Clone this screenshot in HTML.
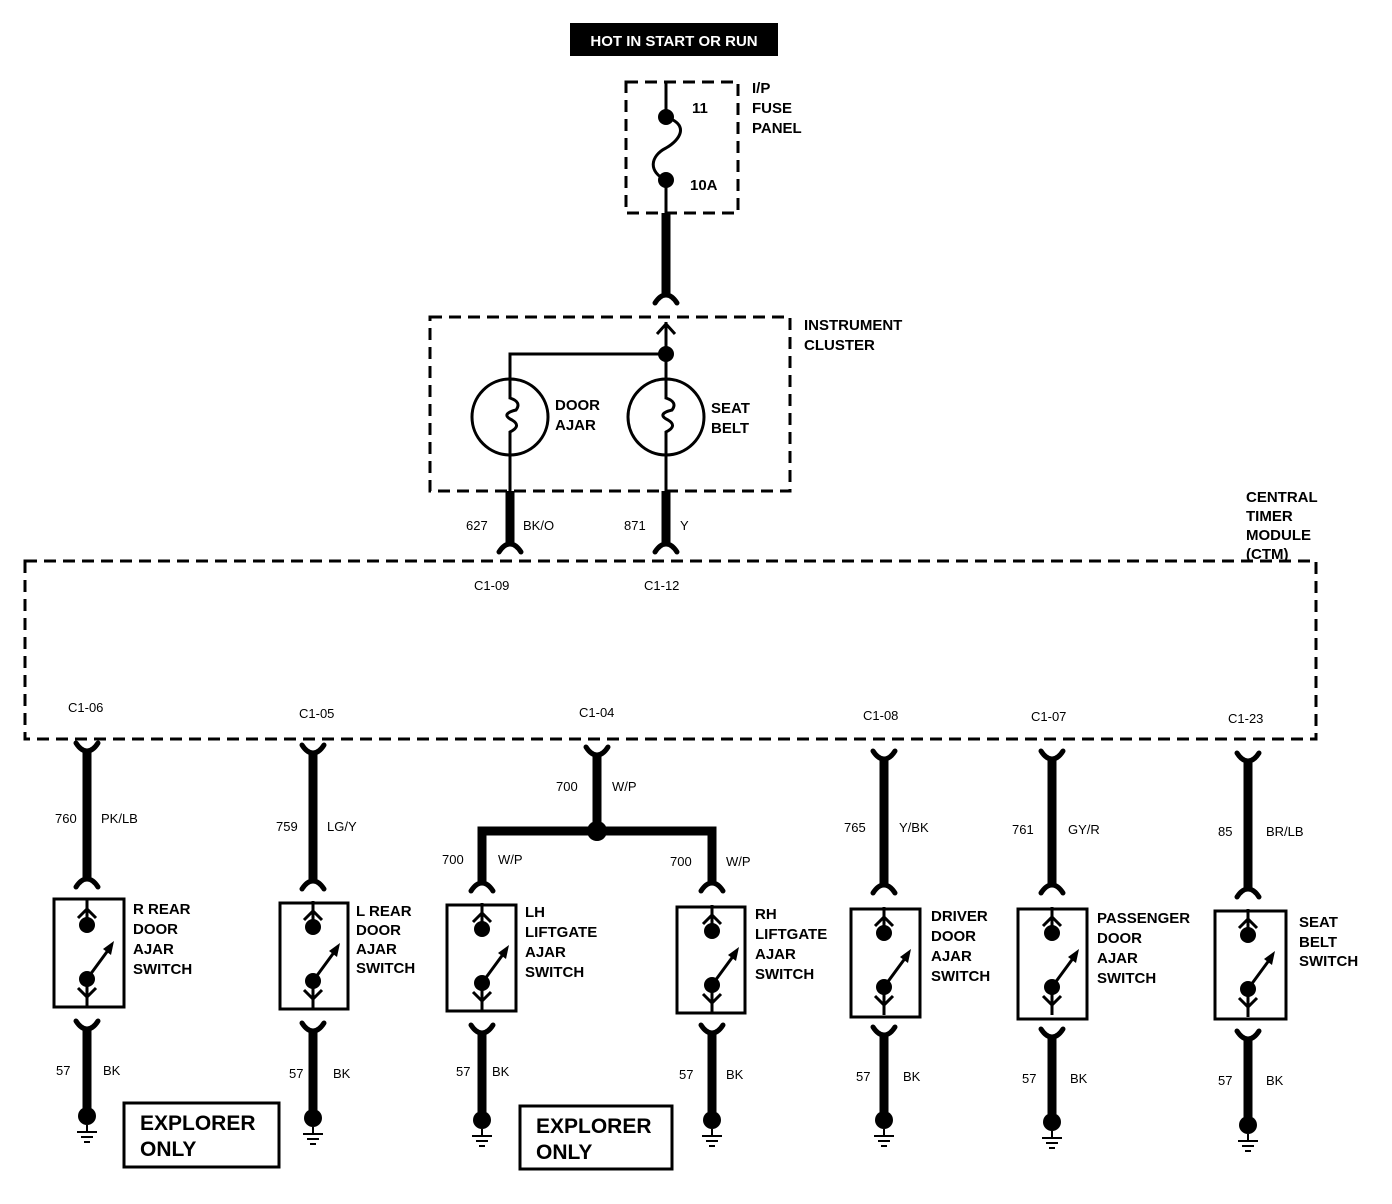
<!DOCTYPE html>
<html><head><meta charset="utf-8"><style>
html,body{margin:0;padding:0;background:#fff}
svg{display:block}
text{font-family:"Liberation Sans",Arial,sans-serif;font-weight:bold;fill:#000}
.l{font-size:15px}
.w{font-size:13px;font-weight:normal}
</style></head><body>
<svg width="1392" height="1204" viewBox="0 0 1392 1204" xmlns="http://www.w3.org/2000/svg">
<defs>
<g id="sw">
 <line x1="0" y1="0" x2="0" y2="26" stroke="#000" stroke-width="3"/>
 <polyline points="-9,19 0,10 9,19" fill="none" stroke="#000" stroke-width="3"/>
 <circle cx="0" cy="26" r="8"/>
 <circle cx="0" cy="80" r="8"/>
 <line x1="0" y1="80" x2="0" y2="108" stroke="#000" stroke-width="3"/>
 <polyline points="-9,89 0,98 9,89" fill="none" stroke="#000" stroke-width="3"/>
 <line x1="0" y1="80" x2="22" y2="50" stroke="#000" stroke-width="3"/>
 <polygon points="27,42 16,50 24,56"/>
</g>
<g id="ctop"><path d="M-11,-5 Q-6,3 0,3 Q6,3 11,-5" fill="none" stroke="#000" stroke-width="5" stroke-linecap="round"/></g>
<g id="cbot"><path d="M-11,5 Q-6,-3 0,-3 Q6,-3 11,5" fill="none" stroke="#000" stroke-width="5" stroke-linecap="round"/></g>
<g id="gnd">
 <circle cx="0" cy="0" r="9"/>
 <line x1="0" y1="9" x2="0" y2="16" stroke="#000" stroke-width="2"/>
 <line x1="-10" y1="16" x2="10" y2="16" stroke="#000" stroke-width="2"/>
 <line x1="-6" y1="21" x2="6" y2="21" stroke="#000" stroke-width="2"/>
 <line x1="-3" y1="26" x2="3" y2="26" stroke="#000" stroke-width="2"/>
</g>
</defs>

<!-- HOT label -->
<rect x="570" y="23" width="208" height="33" fill="#000"/>
<text x="674" y="46" text-anchor="middle" font-size="15" style="fill:#fff">HOT IN START OR RUN</text>

<!-- Fuse panel -->
<rect x="626" y="82" width="112" height="131" fill="none" stroke="#000" stroke-width="3" stroke-dasharray="12,7"/>
<line x1="666" y1="82" x2="666" y2="117" stroke="#000" stroke-width="3"/>
<circle cx="666" cy="117" r="8"/>
<circle cx="666" cy="180" r="8"/>
<path d="M666,117 C690,125 680,140 666,148 C650,156 648,172 666,180" fill="none" stroke="#000" stroke-width="3"/>
<line x1="666" y1="180" x2="666" y2="213" stroke="#000" stroke-width="3"/>
<text x="692" y="113" class="l">11</text>
<text x="690" y="190" class="l">10A</text>
<text x="752" y="93" class="l">I/P</text>
<text x="752" y="113" class="l">FUSE</text>
<text x="752" y="133" class="l">PANEL</text>
<line x1="666" y1="213" x2="666" y2="296" stroke="#000" stroke-width="9"/>
<use href="#cbot" x="666" y="298"/>

<!-- Instrument cluster -->
<rect x="430" y="317" width="360" height="174" fill="none" stroke="#000" stroke-width="3" stroke-dasharray="12,7"/>
<text x="804" y="330" class="l">INSTRUMENT</text>
<text x="804" y="350" class="l">CLUSTER</text>
<line x1="666" y1="322" x2="666" y2="382" stroke="#000" stroke-width="3"/>
<polyline points="657,334 666,324 675,334" fill="none" stroke="#000" stroke-width="3"/>
<circle cx="666" cy="354" r="8"/>
<polyline points="666,354 510,354 510,382" fill="none" stroke="#000" stroke-width="3"/>
<circle cx="510" cy="417" r="38" fill="none" stroke="#000" stroke-width="3"/>
<circle cx="666" cy="417" r="38" fill="none" stroke="#000" stroke-width="3"/>
<path d="M510,379 L510,398 Q522,402 516,410 Q500,414 512,420 Q522,426 510,432 L510,493" fill="none" stroke="#000" stroke-width="3"/>
<path d="M666,379 L666,398 Q678,402 672,410 Q656,414 668,420 Q678,426 666,432 L666,493" fill="none" stroke="#000" stroke-width="3"/>
<text x="555" y="410" class="l">DOOR</text>
<text x="555" y="430" class="l">AJAR</text>
<text x="711" y="413" class="l">SEAT</text>
<text x="711" y="433" class="l">BELT</text>
<line x1="510" y1="491" x2="510" y2="545" stroke="#000" stroke-width="9"/>
<line x1="666" y1="491" x2="666" y2="545" stroke="#000" stroke-width="9"/>
<use href="#cbot" x="510" y="547"/>
<use href="#cbot" x="666" y="547"/>
<text x="466" y="530" class="w">627</text><text x="523" y="530" class="w">BK/O</text>
<text x="624" y="530" class="w">871</text><text x="680" y="530" class="w">Y</text>

<!-- CTM -->
<text x="1246" y="502" class="l">CENTRAL</text>
<text x="1246" y="521" class="l">TIMER</text>
<text x="1246" y="540" class="l">MODULE</text>
<text x="1246" y="559" class="l">(CTM)</text>
<rect x="25" y="561" width="1291" height="178" fill="none" stroke="#000" stroke-width="3" stroke-dasharray="12,7"/>
<text x="474" y="590" class="w">C1-09</text>
<text x="644" y="590" class="w">C1-12</text>
<text x="68" y="712" class="w">C1-06</text>
<text x="299" y="718" class="w">C1-05</text>
<text x="579" y="717" class="w">C1-04</text>
<text x="863" y="720" class="w">C1-08</text>
<text x="1031" y="721" class="w">C1-07</text>
<text x="1228" y="723" class="w">C1-23</text>

<!-- col1 -->
<use href="#ctop" x="87" y="748"/>
<line x1="87" y1="749" x2="87" y2="880" stroke="#000" stroke-width="9"/>
<use href="#cbot" x="87" y="882"/>
<text x="55" y="823" class="w">760</text><text x="101" y="823" class="w">PK/LB</text>
<rect x="54" y="899" width="70" height="108" fill="none" stroke="#000" stroke-width="3"/>
<use href="#sw" x="87" y="899"/>
<text x="133" y="914" class="l">R REAR</text><text x="133" y="934" class="l">DOOR</text><text x="133" y="954" class="l">AJAR</text><text x="133" y="974" class="l">SWITCH</text>
<use href="#ctop" x="87" y="1026"/>
<line x1="87" y1="1027" x2="87" y2="1108" stroke="#000" stroke-width="9"/>
<text x="56" y="1075" class="w">57</text><text x="103" y="1075" class="w">BK</text>
<use href="#gnd" x="87" y="1116"/>
<rect x="124" y="1103" width="155" height="64" fill="none" stroke="#000" stroke-width="3"/>
<text x="140" y="1130" font-size="21">EXPLORER</text><text x="140" y="1156" font-size="21">ONLY</text>

<!-- col2 -->
<use href="#ctop" x="313" y="750"/>
<line x1="313" y1="751" x2="313" y2="882" stroke="#000" stroke-width="9"/>
<use href="#cbot" x="313" y="884"/>
<text x="276" y="831" class="w">759</text><text x="327" y="831" class="w">LG/Y</text>
<rect x="280" y="903" width="68" height="106" fill="none" stroke="#000" stroke-width="3"/>
<use href="#sw" x="313" y="901"/>
<text x="356" y="916" class="l">L REAR</text><text x="356" y="935" class="l">DOOR</text><text x="356" y="954" class="l">AJAR</text><text x="356" y="973" class="l">SWITCH</text>
<use href="#ctop" x="313" y="1028"/>
<line x1="313" y1="1029" x2="313" y2="1110" stroke="#000" stroke-width="9"/>
<text x="289" y="1078" class="w">57</text><text x="333" y="1078" class="w">BK</text>
<use href="#gnd" x="313" y="1118"/>

<!-- col3/4 center -->
<use href="#ctop" x="597" y="752"/>
<line x1="597" y1="753" x2="597" y2="830" stroke="#000" stroke-width="9"/>
<text x="556" y="791" class="w">700</text><text x="612" y="791" class="w">W/P</text>
<circle cx="597" cy="831" r="10"/>
<polyline points="482,884 482,831 712,831 712,884" fill="none" stroke="#000" stroke-width="9"/>
<use href="#cbot" x="482" y="886"/>
<use href="#cbot" x="712" y="886"/>
<text x="442" y="864" class="w">700</text><text x="498" y="864" class="w">W/P</text>
<text x="670" y="866" class="w">700</text><text x="726" y="866" class="w">W/P</text>

<rect x="447" y="905" width="69" height="106" fill="none" stroke="#000" stroke-width="3"/>
<use href="#sw" x="482" y="903"/>
<text x="525" y="917" class="l">LH</text><text x="525" y="937" class="l">LIFTGATE</text><text x="525" y="957" class="l">AJAR</text><text x="525" y="977" class="l">SWITCH</text>
<use href="#ctop" x="482" y="1030"/>
<line x1="482" y1="1031" x2="482" y2="1112" stroke="#000" stroke-width="9"/>
<text x="456" y="1076" class="w">57</text><text x="492" y="1076" class="w">BK</text>
<use href="#gnd" x="482" y="1120"/>
<rect x="520" y="1106" width="152" height="63" fill="none" stroke="#000" stroke-width="3"/>
<text x="536" y="1133" font-size="21">EXPLORER</text><text x="536" y="1159" font-size="21">ONLY</text>

<rect x="677" y="907" width="68" height="106" fill="none" stroke="#000" stroke-width="3"/>
<use href="#sw" x="712" y="905"/>
<text x="755" y="919" class="l">RH</text><text x="755" y="939" class="l">LIFTGATE</text><text x="755" y="959" class="l">AJAR</text><text x="755" y="979" class="l">SWITCH</text>
<use href="#ctop" x="712" y="1030"/>
<line x1="712" y1="1031" x2="712" y2="1112" stroke="#000" stroke-width="9"/>
<text x="679" y="1079" class="w">57</text><text x="726" y="1079" class="w">BK</text>
<use href="#gnd" x="712" y="1120"/>

<!-- col5 -->
<use href="#ctop" x="884" y="756"/>
<line x1="884" y1="757" x2="884" y2="886" stroke="#000" stroke-width="9"/>
<use href="#cbot" x="884" y="888"/>
<text x="844" y="832" class="w">765</text><text x="899" y="832" class="w">Y/BK</text>
<rect x="851" y="909" width="69" height="108" fill="none" stroke="#000" stroke-width="3"/>
<use href="#sw" x="884" y="907"/>
<text x="931" y="921" class="l">DRIVER</text><text x="931" y="941" class="l">DOOR</text><text x="931" y="961" class="l">AJAR</text><text x="931" y="981" class="l">SWITCH</text>
<use href="#ctop" x="884" y="1032"/>
<line x1="884" y1="1033" x2="884" y2="1112" stroke="#000" stroke-width="9"/>
<text x="856" y="1081" class="w">57</text><text x="903" y="1081" class="w">BK</text>
<use href="#gnd" x="884" y="1120"/>

<!-- col6 -->
<use href="#ctop" x="1052" y="756"/>
<line x1="1052" y1="757" x2="1052" y2="886" stroke="#000" stroke-width="9"/>
<use href="#cbot" x="1052" y="888"/>
<text x="1012" y="834" class="w">761</text><text x="1068" y="834" class="w">GY/R</text>
<rect x="1018" y="909" width="69" height="110" fill="none" stroke="#000" stroke-width="3"/>
<use href="#sw" x="1052" y="907"/>
<text x="1097" y="923" class="l">PASSENGER</text><text x="1097" y="943" class="l">DOOR</text><text x="1097" y="963" class="l">AJAR</text><text x="1097" y="983" class="l">SWITCH</text>
<use href="#ctop" x="1052" y="1034"/>
<line x1="1052" y1="1035" x2="1052" y2="1114" stroke="#000" stroke-width="9"/>
<text x="1022" y="1083" class="w">57</text><text x="1070" y="1083" class="w">BK</text>
<use href="#gnd" x="1052" y="1122"/>

<!-- col7 -->
<use href="#ctop" x="1248" y="758"/>
<line x1="1248" y1="759" x2="1248" y2="890" stroke="#000" stroke-width="9"/>
<use href="#cbot" x="1248" y="892"/>
<text x="1218" y="836" class="w">85</text><text x="1266" y="836" class="w">BR/LB</text>
<rect x="1215" y="911" width="71" height="108" fill="none" stroke="#000" stroke-width="3"/>
<use href="#sw" x="1248" y="909"/>
<text x="1299" y="927" class="l">SEAT</text><text x="1299" y="947" class="l">BELT</text><text x="1299" y="966" class="l">SWITCH</text>
<use href="#ctop" x="1248" y="1036"/>
<line x1="1248" y1="1037" x2="1248" y2="1117" stroke="#000" stroke-width="9"/>
<text x="1218" y="1085" class="w">57</text><text x="1266" y="1085" class="w">BK</text>
<use href="#gnd" x="1248" y="1125"/>
</svg>
</body></html>
